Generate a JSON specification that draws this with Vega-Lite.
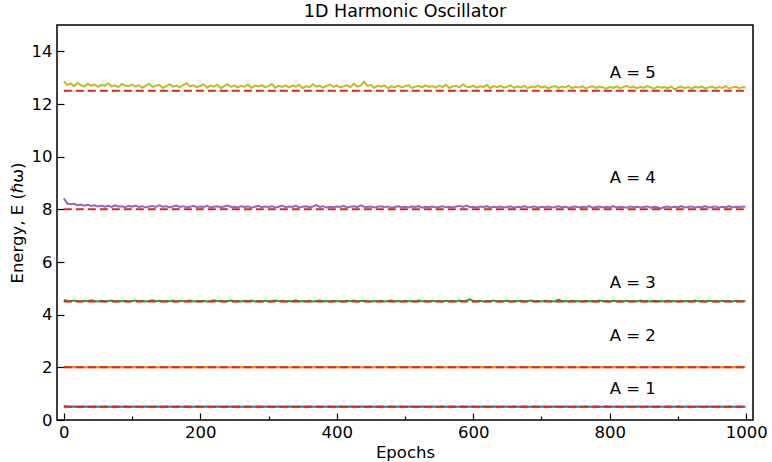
{
  "$schema": "https://vega.github.io/schema/vega-lite/v6.json",
  "width": 696,
  "height": 395,
  "autosize": {"type": "none"},
  "padding": {"left": 57, "top": 25, "right": 19, "bottom": 42},
  "background": "white",
  "title": {"text": "1D Harmonic Oscillator", "font": "DejaVu Sans", "fontSize": 17.5, "fontWeight": "normal", "color": "black", "offset": 5},
  "config": {
    "view": {"stroke": "black", "strokeWidth": 1.5},
    "axis": {
      "domain": false,
      "grid": false,
      "tickColor": "black",
      "tickWidth": 1.2,
      "labelFont": "DejaVu Sans",
      "labelFontSize": 16.5,
      "labelColor": "black",
      "labelOverlap": false,
      "labelFlush": false,
      "titleFont": "DejaVu Sans",
      "titleFontSize": 16.5,
      "titleFontWeight": "normal",
      "titleColor": "black"
    }
  },
  "datasets": {
    "energies": [
      {"epoch":0,"A1":0.52,"A2":2.02,"A3":4.56,"A4":8.42,"A5":12.86},
      {"epoch":5,"A1":0.51,"A2":2.01,"A3":4.53,"A4":8.22,"A5":12.72},
      {"epoch":10,"A1":0.50,"A2":2.00,"A3":4.51,"A4":8.19,"A5":12.78},
      {"epoch":15,"A1":0.51,"A2":2.01,"A3":4.54,"A4":8.21,"A5":12.68},
      {"epoch":20,"A1":0.50,"A2":2.00,"A3":4.52,"A4":8.16,"A5":12.80},
      {"epoch":25,"A1":0.50,"A2":2.01,"A3":4.50,"A4":8.18,"A5":12.71},
      {"epoch":30,"A1":0.51,"A2":2.00,"A3":4.53,"A4":8.14,"A5":12.66},
      {"epoch":35,"A1":0.50,"A2":2.00,"A3":4.51,"A4":8.17,"A5":12.77},
      {"epoch":40,"A1":0.50,"A2":2.01,"A3":4.55,"A4":8.13,"A5":12.70},
      {"epoch":45,"A1":0.51,"A2":2.00,"A3":4.52,"A4":8.15,"A5":12.74},
      {"epoch":50,"A1":0.50,"A2":2.00,"A3":4.50,"A4":8.11,"A5":12.65},
      {"epoch":55,"A1":0.50,"A2":2.01,"A3":4.53,"A4":8.14,"A5":12.73},
      {"epoch":60,"A1":0.51,"A2":2.00,"A3":4.51,"A4":8.10,"A5":12.69},
      {"epoch":65,"A1":0.50,"A2":2.00,"A3":4.52,"A4":8.13,"A5":12.79},
      {"epoch":70,"A1":0.50,"A2":2.01,"A3":4.54,"A4":8.09,"A5":12.67},
      {"epoch":75,"A1":0.51,"A2":2.00,"A3":4.50,"A4":8.15,"A5":12.71},
      {"epoch":80,"A1":0.50,"A2":2.00,"A3":4.52,"A4":8.11,"A5":12.64},
      {"epoch":85,"A1":0.50,"A2":2.01,"A3":4.51,"A4":8.12,"A5":12.76},
      {"epoch":90,"A1":0.51,"A2":2.00,"A3":4.53,"A4":8.08,"A5":12.70},
      {"epoch":95,"A1":0.50,"A2":2.00,"A3":4.50,"A4":8.13,"A5":12.68},
      {"epoch":100,"A1":0.50,"A2":2.01,"A3":4.52,"A4":8.10,"A5":12.74},
      {"epoch":105,"A1":0.51,"A2":2.00,"A3":4.54,"A4":8.14,"A5":12.66},
      {"epoch":110,"A1":0.50,"A2":2.00,"A3":4.51,"A4":8.09,"A5":12.72},
      {"epoch":115,"A1":0.50,"A2":2.01,"A3":4.53,"A4":8.12,"A5":12.62},
      {"epoch":120,"A1":0.51,"A2":2.00,"A3":4.50,"A4":8.07,"A5":12.70},
      {"epoch":125,"A1":0.50,"A2":2.00,"A3":4.52,"A4":8.11,"A5":12.77},
      {"epoch":130,"A1":0.50,"A2":2.01,"A3":4.55,"A4":8.13,"A5":12.65},
      {"epoch":135,"A1":0.51,"A2":2.00,"A3":4.51,"A4":8.09,"A5":12.69},
      {"epoch":140,"A1":0.50,"A2":2.00,"A3":4.53,"A4":8.15,"A5":12.73},
      {"epoch":145,"A1":0.50,"A2":2.01,"A3":4.50,"A4":8.10,"A5":12.61},
      {"epoch":150,"A1":0.51,"A2":2.00,"A3":4.52,"A4":8.12,"A5":12.68},
      {"epoch":155,"A1":0.50,"A2":2.00,"A3":4.51,"A4":8.08,"A5":12.75},
      {"epoch":160,"A1":0.50,"A2":2.01,"A3":4.54,"A4":8.11,"A5":12.66},
      {"epoch":165,"A1":0.51,"A2":2.00,"A3":4.50,"A4":8.14,"A5":12.70},
      {"epoch":170,"A1":0.50,"A2":2.00,"A3":4.53,"A4":8.09,"A5":12.63},
      {"epoch":175,"A1":0.50,"A2":2.01,"A3":4.51,"A4":8.12,"A5":12.72},
      {"epoch":180,"A1":0.51,"A2":2.00,"A3":4.52,"A4":8.07,"A5":12.79},
      {"epoch":185,"A1":0.50,"A2":2.00,"A3":4.54,"A4":8.10,"A5":12.67},
      {"epoch":190,"A1":0.50,"A2":2.01,"A3":4.50,"A4":8.13,"A5":12.71},
      {"epoch":195,"A1":0.51,"A2":2.00,"A3":4.52,"A4":8.08,"A5":12.64},
      {"epoch":200,"A1":0.50,"A2":2.00,"A3":4.51,"A4":8.11,"A5":12.69},
      {"epoch":205,"A1":0.50,"A2":2.01,"A3":4.53,"A4":8.09,"A5":12.74},
      {"epoch":210,"A1":0.51,"A2":2.00,"A3":4.50,"A4":8.13,"A5":12.62},
      {"epoch":215,"A1":0.50,"A2":2.00,"A3":4.52,"A4":8.07,"A5":12.70},
      {"epoch":220,"A1":0.50,"A2":2.01,"A3":4.55,"A4":8.10,"A5":12.66},
      {"epoch":225,"A1":0.51,"A2":2.00,"A3":4.51,"A4":8.12,"A5":12.73},
      {"epoch":230,"A1":0.50,"A2":2.00,"A3":4.53,"A4":8.08,"A5":12.60},
      {"epoch":235,"A1":0.50,"A2":2.01,"A3":4.50,"A4":8.11,"A5":12.68},
      {"epoch":240,"A1":0.51,"A2":2.00,"A3":4.52,"A4":8.14,"A5":12.75},
      {"epoch":245,"A1":0.50,"A2":2.00,"A3":4.54,"A4":8.09,"A5":12.65},
      {"epoch":250,"A1":0.50,"A2":2.01,"A3":4.51,"A4":8.10,"A5":12.71},
      {"epoch":255,"A1":0.51,"A2":2.00,"A3":4.52,"A4":8.07,"A5":12.63},
      {"epoch":260,"A1":0.50,"A2":2.00,"A3":4.50,"A4":8.12,"A5":12.69},
      {"epoch":265,"A1":0.50,"A2":2.01,"A3":4.53,"A4":8.09,"A5":12.66},
      {"epoch":270,"A1":0.51,"A2":2.00,"A3":4.51,"A4":8.11,"A5":12.74},
      {"epoch":275,"A1":0.50,"A2":2.00,"A3":4.54,"A4":8.06,"A5":12.61},
      {"epoch":280,"A1":0.50,"A2":2.01,"A3":4.50,"A4":8.10,"A5":12.70},
      {"epoch":285,"A1":0.51,"A2":2.00,"A3":4.52,"A4":8.13,"A5":12.67},
      {"epoch":290,"A1":0.50,"A2":2.00,"A3":4.51,"A4":8.08,"A5":12.72},
      {"epoch":295,"A1":0.50,"A2":2.01,"A3":4.53,"A4":8.11,"A5":12.64},
      {"epoch":300,"A1":0.51,"A2":2.00,"A3":4.50,"A4":8.09,"A5":12.68},
      {"epoch":305,"A1":0.50,"A2":2.00,"A3":4.52,"A4":8.12,"A5":12.76},
      {"epoch":310,"A1":0.50,"A2":2.01,"A3":4.54,"A4":8.07,"A5":12.62},
      {"epoch":315,"A1":0.51,"A2":2.00,"A3":4.51,"A4":8.10,"A5":12.69},
      {"epoch":320,"A1":0.50,"A2":2.00,"A3":4.53,"A4":8.14,"A5":12.65},
      {"epoch":325,"A1":0.50,"A2":2.01,"A3":4.50,"A4":8.08,"A5":12.71},
      {"epoch":330,"A1":0.51,"A2":2.00,"A3":4.52,"A4":8.11,"A5":12.63},
      {"epoch":335,"A1":0.50,"A2":2.00,"A3":4.51,"A4":8.09,"A5":12.70},
      {"epoch":340,"A1":0.50,"A2":2.01,"A3":4.55,"A4":8.13,"A5":12.66},
      {"epoch":345,"A1":0.51,"A2":2.00,"A3":4.50,"A4":8.07,"A5":12.73},
      {"epoch":350,"A1":0.50,"A2":2.00,"A3":4.52,"A4":8.10,"A5":12.60},
      {"epoch":355,"A1":0.50,"A2":2.01,"A3":4.51,"A4":8.12,"A5":12.68},
      {"epoch":360,"A1":0.51,"A2":2.00,"A3":4.53,"A4":8.08,"A5":12.64},
      {"epoch":365,"A1":0.50,"A2":2.00,"A3":4.50,"A4":8.11,"A5":12.75},
      {"epoch":370,"A1":0.50,"A2":2.01,"A3":4.52,"A4":8.16,"A5":12.66},
      {"epoch":375,"A1":0.51,"A2":2.00,"A3":4.54,"A4":8.09,"A5":12.70},
      {"epoch":380,"A1":0.50,"A2":2.00,"A3":4.51,"A4":8.12,"A5":12.62},
      {"epoch":385,"A1":0.50,"A2":2.01,"A3":4.52,"A4":8.07,"A5":12.69},
      {"epoch":390,"A1":0.51,"A2":2.00,"A3":4.50,"A4":8.10,"A5":12.74},
      {"epoch":395,"A1":0.50,"A2":2.00,"A3":4.53,"A4":8.08,"A5":12.65},
      {"epoch":400,"A1":0.50,"A2":2.01,"A3":4.51,"A4":8.11,"A5":12.71},
      {"epoch":405,"A1":0.51,"A2":2.00,"A3":4.52,"A4":8.09,"A5":12.63},
      {"epoch":410,"A1":0.50,"A2":2.00,"A3":4.50,"A4":8.13,"A5":12.67},
      {"epoch":415,"A1":0.50,"A2":2.01,"A3":4.53,"A4":8.07,"A5":12.72},
      {"epoch":420,"A1":0.51,"A2":2.00,"A3":4.51,"A4":8.10,"A5":12.64},
      {"epoch":425,"A1":0.50,"A2":2.00,"A3":4.54,"A4":8.12,"A5":12.77},
      {"epoch":430,"A1":0.50,"A2":2.01,"A3":4.50,"A4":8.08,"A5":12.66},
      {"epoch":435,"A1":0.51,"A2":2.00,"A3":4.52,"A4":8.15,"A5":12.70},
      {"epoch":440,"A1":0.50,"A2":2.00,"A3":4.53,"A4":8.10,"A5":12.85},
      {"epoch":445,"A1":0.50,"A2":2.01,"A3":4.51,"A4":8.09,"A5":12.68},
      {"epoch":450,"A1":0.51,"A2":2.00,"A3":4.50,"A4":8.11,"A5":12.73},
      {"epoch":455,"A1":0.50,"A2":2.00,"A3":4.52,"A4":8.07,"A5":12.62},
      {"epoch":460,"A1":0.50,"A2":2.01,"A3":4.51,"A4":8.10,"A5":12.69},
      {"epoch":465,"A1":0.51,"A2":2.00,"A3":4.53,"A4":8.12,"A5":12.66},
      {"epoch":470,"A1":0.50,"A2":2.00,"A3":4.50,"A4":8.08,"A5":12.71},
      {"epoch":475,"A1":0.50,"A2":2.01,"A3":4.52,"A4":8.11,"A5":12.60},
      {"epoch":480,"A1":0.51,"A2":2.00,"A3":4.54,"A4":8.06,"A5":12.67},
      {"epoch":485,"A1":0.50,"A2":2.00,"A3":4.51,"A4":8.09,"A5":12.64},
      {"epoch":490,"A1":0.50,"A2":2.01,"A3":4.52,"A4":8.12,"A5":12.70},
      {"epoch":495,"A1":0.51,"A2":2.00,"A3":4.50,"A4":8.08,"A5":12.63},
      {"epoch":500,"A1":0.50,"A2":2.00,"A3":4.53,"A4":8.10,"A5":12.68},
      {"epoch":505,"A1":0.50,"A2":2.01,"A3":4.51,"A4":8.07,"A5":12.72},
      {"epoch":510,"A1":0.51,"A2":2.00,"A3":4.52,"A4":8.11,"A5":12.61},
      {"epoch":515,"A1":0.50,"A2":2.00,"A3":4.50,"A4":8.09,"A5":12.66},
      {"epoch":520,"A1":0.50,"A2":2.01,"A3":4.54,"A4":8.12,"A5":12.69},
      {"epoch":525,"A1":0.51,"A2":2.00,"A3":4.51,"A4":8.06,"A5":12.63},
      {"epoch":530,"A1":0.50,"A2":2.00,"A3":4.52,"A4":8.10,"A5":12.71},
      {"epoch":535,"A1":0.50,"A2":2.01,"A3":4.50,"A4":8.08,"A5":12.65},
      {"epoch":540,"A1":0.51,"A2":2.00,"A3":4.53,"A4":8.11,"A5":12.68},
      {"epoch":545,"A1":0.50,"A2":2.00,"A3":4.51,"A4":8.07,"A5":12.62},
      {"epoch":550,"A1":0.50,"A2":2.01,"A3":4.52,"A4":8.09,"A5":12.70},
      {"epoch":555,"A1":0.51,"A2":2.00,"A3":4.50,"A4":8.12,"A5":12.64},
      {"epoch":560,"A1":0.50,"A2":2.00,"A3":4.53,"A4":8.08,"A5":12.73},
      {"epoch":565,"A1":0.50,"A2":2.01,"A3":4.51,"A4":8.10,"A5":12.61},
      {"epoch":570,"A1":0.51,"A2":2.00,"A3":4.52,"A4":8.07,"A5":12.67},
      {"epoch":575,"A1":0.50,"A2":2.00,"A3":4.50,"A4":8.11,"A5":12.69},
      {"epoch":580,"A1":0.50,"A2":2.01,"A3":4.54,"A4":8.13,"A5":12.63},
      {"epoch":585,"A1":0.51,"A2":2.00,"A3":4.51,"A4":8.09,"A5":12.75},
      {"epoch":590,"A1":0.50,"A2":2.00,"A3":4.53,"A4":8.14,"A5":12.66},
      {"epoch":595,"A1":0.50,"A2":2.01,"A3":4.58,"A4":8.08,"A5":12.64},
      {"epoch":600,"A1":0.51,"A2":2.00,"A3":4.52,"A4":8.10,"A5":12.70},
      {"epoch":605,"A1":0.50,"A2":2.00,"A3":4.51,"A4":8.07,"A5":12.62},
      {"epoch":610,"A1":0.50,"A2":2.01,"A3":4.53,"A4":8.11,"A5":12.67},
      {"epoch":615,"A1":0.51,"A2":2.00,"A3":4.50,"A4":8.09,"A5":12.65},
      {"epoch":620,"A1":0.50,"A2":2.00,"A3":4.52,"A4":8.12,"A5":12.72},
      {"epoch":625,"A1":0.50,"A2":2.01,"A3":4.51,"A4":8.06,"A5":12.60},
      {"epoch":630,"A1":0.51,"A2":2.00,"A3":4.54,"A4":8.10,"A5":12.68},
      {"epoch":635,"A1":0.50,"A2":2.00,"A3":4.50,"A4":8.08,"A5":12.64},
      {"epoch":640,"A1":0.50,"A2":2.01,"A3":4.52,"A4":8.11,"A5":12.69},
      {"epoch":645,"A1":0.51,"A2":2.00,"A3":4.51,"A4":8.07,"A5":12.62},
      {"epoch":650,"A1":0.50,"A2":2.00,"A3":4.53,"A4":8.09,"A5":12.66},
      {"epoch":655,"A1":0.50,"A2":2.01,"A3":4.50,"A4":8.11,"A5":12.71},
      {"epoch":660,"A1":0.51,"A2":2.00,"A3":4.52,"A4":8.06,"A5":12.61},
      {"epoch":665,"A1":0.50,"A2":2.00,"A3":4.51,"A4":8.10,"A5":12.67},
      {"epoch":670,"A1":0.50,"A2":2.01,"A3":4.53,"A4":8.08,"A5":12.63},
      {"epoch":675,"A1":0.51,"A2":2.00,"A3":4.50,"A4":8.12,"A5":12.69},
      {"epoch":680,"A1":0.50,"A2":2.00,"A3":4.52,"A4":8.07,"A5":12.60},
      {"epoch":685,"A1":0.50,"A2":2.01,"A3":4.54,"A4":8.09,"A5":12.66},
      {"epoch":690,"A1":0.51,"A2":2.00,"A3":4.51,"A4":8.11,"A5":12.64},
      {"epoch":695,"A1":0.50,"A2":2.00,"A3":4.52,"A4":8.06,"A5":12.70},
      {"epoch":700,"A1":0.50,"A2":2.01,"A3":4.50,"A4":8.10,"A5":12.62},
      {"epoch":705,"A1":0.51,"A2":2.00,"A3":4.53,"A4":8.08,"A5":12.67},
      {"epoch":710,"A1":0.50,"A2":2.00,"A3":4.51,"A4":8.11,"A5":12.59},
      {"epoch":715,"A1":0.50,"A2":2.01,"A3":4.52,"A4":8.07,"A5":12.65},
      {"epoch":720,"A1":0.51,"A2":2.00,"A3":4.50,"A4":8.09,"A5":12.68},
      {"epoch":725,"A1":0.50,"A2":2.00,"A3":4.57,"A4":8.12,"A5":12.61},
      {"epoch":730,"A1":0.50,"A2":2.01,"A3":4.51,"A4":8.08,"A5":12.66},
      {"epoch":735,"A1":0.51,"A2":2.00,"A3":4.52,"A4":8.10,"A5":12.63},
      {"epoch":740,"A1":0.50,"A2":2.00,"A3":4.50,"A4":8.06,"A5":12.70},
      {"epoch":745,"A1":0.50,"A2":2.01,"A3":4.53,"A4":8.09,"A5":12.60},
      {"epoch":750,"A1":0.51,"A2":2.00,"A3":4.51,"A4":8.11,"A5":12.65},
      {"epoch":755,"A1":0.50,"A2":2.00,"A3":4.52,"A4":8.07,"A5":12.62},
      {"epoch":760,"A1":0.50,"A2":2.01,"A3":4.50,"A4":8.10,"A5":12.68},
      {"epoch":765,"A1":0.51,"A2":2.00,"A3":4.53,"A4":8.08,"A5":12.59},
      {"epoch":770,"A1":0.50,"A2":2.00,"A3":4.51,"A4":8.12,"A5":12.64},
      {"epoch":775,"A1":0.50,"A2":2.01,"A3":4.52,"A4":8.06,"A5":12.67},
      {"epoch":780,"A1":0.51,"A2":2.00,"A3":4.50,"A4":8.09,"A5":12.61},
      {"epoch":785,"A1":0.50,"A2":2.00,"A3":4.54,"A4":8.11,"A5":12.66},
      {"epoch":790,"A1":0.50,"A2":2.01,"A3":4.51,"A4":8.07,"A5":12.63},
      {"epoch":795,"A1":0.51,"A2":2.00,"A3":4.52,"A4":8.10,"A5":12.58},
      {"epoch":800,"A1":0.50,"A2":2.00,"A3":4.50,"A4":8.08,"A5":12.65},
      {"epoch":805,"A1":0.50,"A2":2.01,"A3":4.53,"A4":8.12,"A5":12.61},
      {"epoch":810,"A1":0.51,"A2":2.00,"A3":4.51,"A4":8.07,"A5":12.67},
      {"epoch":815,"A1":0.50,"A2":2.00,"A3":4.52,"A4":8.10,"A5":12.60},
      {"epoch":820,"A1":0.50,"A2":2.01,"A3":4.50,"A4":8.09,"A5":12.64},
      {"epoch":825,"A1":0.51,"A2":2.00,"A3":4.53,"A4":8.06,"A5":12.69},
      {"epoch":830,"A1":0.50,"A2":2.00,"A3":4.51,"A4":8.11,"A5":12.62},
      {"epoch":835,"A1":0.50,"A2":2.01,"A3":4.52,"A4":8.08,"A5":12.66},
      {"epoch":840,"A1":0.51,"A2":2.00,"A3":4.50,"A4":8.10,"A5":12.59},
      {"epoch":845,"A1":0.50,"A2":2.00,"A3":4.54,"A4":8.07,"A5":12.65},
      {"epoch":850,"A1":0.50,"A2":2.01,"A3":4.51,"A4":8.09,"A5":12.61},
      {"epoch":855,"A1":0.51,"A2":2.00,"A3":4.52,"A4":8.11,"A5":12.68},
      {"epoch":860,"A1":0.50,"A2":2.00,"A3":4.50,"A4":8.06,"A5":12.63},
      {"epoch":865,"A1":0.50,"A2":2.01,"A3":4.53,"A4":8.10,"A5":12.58},
      {"epoch":870,"A1":0.51,"A2":2.00,"A3":4.51,"A4":8.08,"A5":12.66},
      {"epoch":875,"A1":0.50,"A2":2.00,"A3":4.52,"A4":8.03,"A5":12.62},
      {"epoch":880,"A1":0.50,"A2":2.01,"A3":4.50,"A4":8.09,"A5":12.64},
      {"epoch":885,"A1":0.51,"A2":2.00,"A3":4.53,"A4":8.11,"A5":12.60},
      {"epoch":890,"A1":0.50,"A2":2.00,"A3":4.51,"A4":8.07,"A5":12.67},
      {"epoch":895,"A1":0.50,"A2":2.01,"A3":4.52,"A4":8.10,"A5":12.55},
      {"epoch":900,"A1":0.51,"A2":2.00,"A3":4.50,"A4":8.08,"A5":12.63},
      {"epoch":905,"A1":0.50,"A2":2.00,"A3":4.53,"A4":8.12,"A5":12.66},
      {"epoch":910,"A1":0.50,"A2":2.01,"A3":4.51,"A4":8.07,"A5":12.60},
      {"epoch":915,"A1":0.51,"A2":2.00,"A3":4.52,"A4":8.09,"A5":12.64},
      {"epoch":920,"A1":0.50,"A2":2.00,"A3":4.50,"A4":8.11,"A5":12.58},
      {"epoch":925,"A1":0.50,"A2":2.01,"A3":4.54,"A4":8.06,"A5":12.65},
      {"epoch":930,"A1":0.51,"A2":2.00,"A3":4.51,"A4":8.10,"A5":12.62},
      {"epoch":935,"A1":0.50,"A2":2.00,"A3":4.52,"A4":8.08,"A5":12.67},
      {"epoch":940,"A1":0.50,"A2":2.01,"A3":4.50,"A4":8.12,"A5":12.59},
      {"epoch":945,"A1":0.51,"A2":2.00,"A3":4.53,"A4":8.07,"A5":12.63},
      {"epoch":950,"A1":0.50,"A2":2.00,"A3":4.51,"A4":8.09,"A5":12.66},
      {"epoch":955,"A1":0.50,"A2":2.01,"A3":4.52,"A4":8.11,"A5":12.60},
      {"epoch":960,"A1":0.51,"A2":2.00,"A3":4.50,"A4":8.06,"A5":12.64},
      {"epoch":965,"A1":0.50,"A2":2.00,"A3":4.53,"A4":8.10,"A5":12.61},
      {"epoch":970,"A1":0.50,"A2":2.01,"A3":4.51,"A4":8.08,"A5":12.68},
      {"epoch":975,"A1":0.51,"A2":2.00,"A3":4.52,"A4":8.12,"A5":12.59},
      {"epoch":980,"A1":0.50,"A2":2.00,"A3":4.50,"A4":8.07,"A5":12.63},
      {"epoch":985,"A1":0.50,"A2":2.01,"A3":4.53,"A4":8.10,"A5":12.65},
      {"epoch":990,"A1":0.51,"A2":2.00,"A3":4.51,"A4":8.09,"A5":12.60},
      {"epoch":995,"A1":0.50,"A2":2.00,"A3":4.52,"A4":8.11,"A5":12.64},
      {"epoch":999,"A1":0.50,"A2":2.01,"A3":4.51,"A4":8.10,"A5":12.62}
    ],
    "exact": [
      {"A": 1, "E": 0.5},
      {"A": 2, "E": 2.0},
      {"A": 3, "E": 4.5},
      {"A": 4, "E": 8.0},
      {"A": 5, "E": 12.5}
    ],
    "labels": [
      {"label": "A = 1", "epoch": 800, "E": 1},
      {"label": "A = 2", "epoch": 800, "E": 3},
      {"label": "A = 3", "epoch": 800, "E": 5},
      {"label": "A = 4", "epoch": 800, "E": 9},
      {"label": "A = 5", "epoch": 800, "E": 13}
    ]
  },
  "layer": [
    {
      "data": {"name": "energies"},
      "transform": [{"fold": ["A1", "A2", "A3", "A4", "A5"], "as": ["series", "E"]}],
      "mark": {"type": "line", "strokeWidth": 2, "clip": true},
      "encoding": {
        "x": {
          "field": "epoch",
          "type": "quantitative",
          "scale": {"domain": [-10, 1010], "nice": false, "zero": false},
          "axis": {
            "title": "Epochs",
            "titlePadding": 1,
            "format": "d",
            "values": [0,50,100,150,200,250,300,350,400,450,500,550,600,650,700,750,800,850,900,950,1000],
            "labelExpr": "datum.value % 200 === 0 ? datum.label : ''",
            "tickSize": {"condition": {"test": "datum.value % 200 === 0", "value": -7}, "value": -4},
            "labelPadding": 11
          }
        },
        "y": {
          "field": "E",
          "type": "quantitative",
          "scale": {"domain": [0, 15], "nice": false},
          "axis": {
            "title": "Energy, E (ℏω)",
            "titlePadding": 6,
            "values": [0,0.5,1,1.5,2,2.5,3,3.5,4,4.5,5,5.5,6,6.5,7,7.5,8,8.5,9,9.5,10,10.5,11,11.5,12,12.5,13,13.5,14,14.5],
            "labelExpr": "datum.value % 2 === 0 ? datum.label : ''",
            "tickSize": {"condition": {"test": "datum.value % 2 === 0", "value": -7}, "value": -4},
            "labelPadding": 12
          }
        },
        "color": {
          "field": "series",
          "type": "nominal",
          "scale": {"domain": ["A1", "A2", "A3", "A4", "A5"], "range": ["#1f77b4", "#ff7f0e", "#2ca02c", "#9467bd", "#bcbd22"]},
          "legend": null
        }
      }
    },
    {
      "data": {"name": "exact"},
      "mark": {"type": "rule", "color": "#d62728", "strokeWidth": 2, "strokeDash": [8, 4]},
      "encoding": {
        "x": {"datum": 0, "type": "quantitative"},
        "x2": {"datum": 999},
        "y": {"field": "E", "type": "quantitative"}
      }
    },
    {
      "data": {"name": "labels"},
      "mark": {"type": "text", "align": "left", "baseline": "alphabetic", "font": "DejaVu Sans", "fontSize": 16.5, "color": "black"},
      "encoding": {
        "x": {"field": "epoch", "type": "quantitative"},
        "y": {"field": "E", "type": "quantitative"},
        "text": {"field": "label"}
      }
    }
  ]
}
